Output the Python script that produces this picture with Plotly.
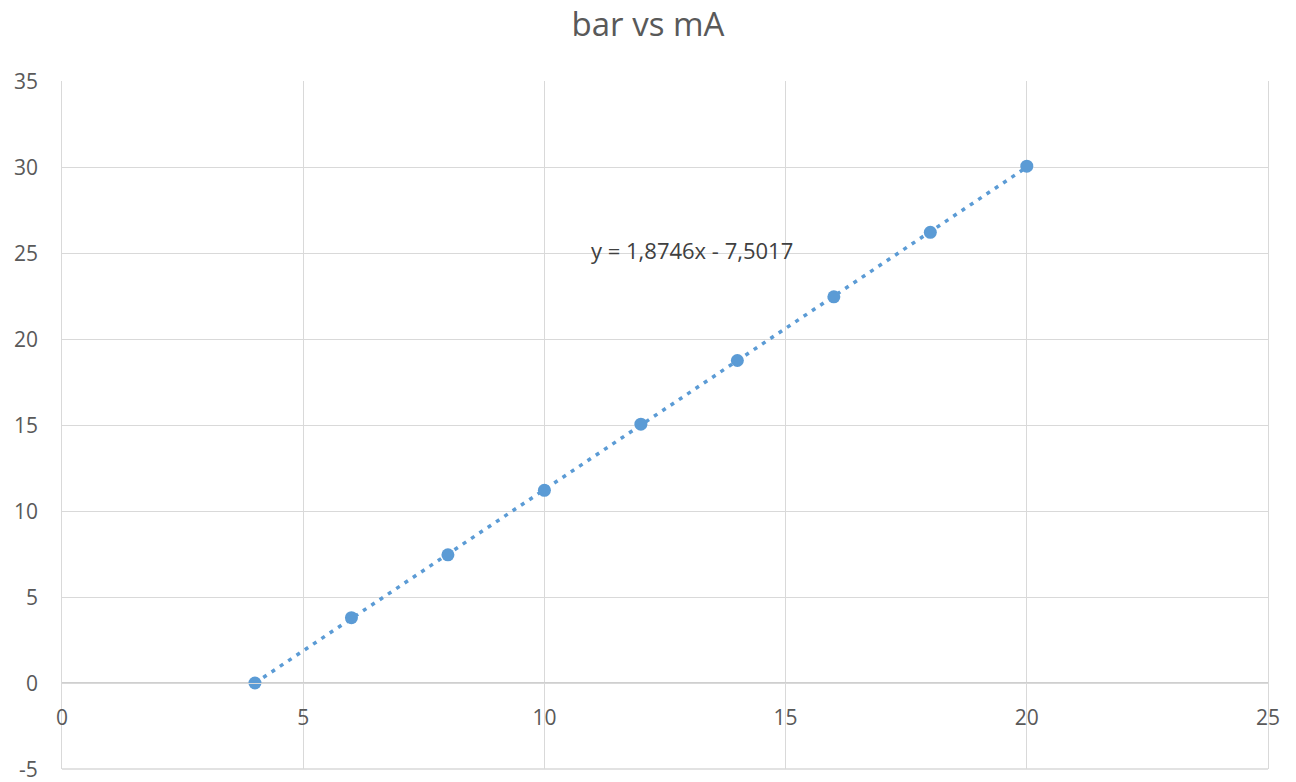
import plotly.graph_objects as go

# Calibration readings: loop current (mA) vs pressure (bar)
current_ma = [4, 6, 8, 10, 12, 14, 16, 18, 20]
pressure_bar = [0.0, 3.8, 7.45, 11.2, 15.05, 18.75, 22.45, 26.2, 30.05]

# Linear trendline as stated in the label
slope = 1.8746
intercept = -7.5017
trend_x = [4, 20]
trend_y = [slope * x + intercept for x in trend_x]

x_ticks = [0, 5, 10, 15, 20, 25]
y_ticks = [-5, 0, 5, 10, 15, 20, 25, 30, 35]

grid = "#d9d9d9"
text_col = "#595959"
blue = "#5b9bd5"
tick_font = dict(family="Open Sans", size=21, color=text_col)

fig = go.Figure()
fig.add_trace(go.Scatter(
    x=trend_x, y=trend_y, mode="lines",
    line=dict(color=blue, width=3.5, dash="4px,6px"),
    hoverinfo="skip", showlegend=False,
))
fig.add_trace(go.Scatter(
    x=current_ma, y=pressure_bar, mode="markers",
    marker=dict(color=blue, size=13),
    showlegend=False,
))

fig.add_annotation(
    x=13.05, y=25.2, xref="x", yref="y",
    text="y = 1,8746x - 7,5017", showarrow=False,
    font=dict(size=22, color="#404040"),
)

# value labels for the y axis, placed left of the plot area
for v in y_ticks:
    fig.add_annotation(
        x=0, y=v, xref="paper", yref="y", text=str(v), showarrow=False,
        xanchor="right", yanchor="middle", xshift=-22, font=tick_font,
    )

# frame along the bottom edge of the plot area
fig.add_shape(type="line", xref="paper", yref="paper", x0=0, x1=1, y0=0, y1=0,
              line=dict(color=grid, width=1.5))

fig.update_layout(
    width=1296, height=782,
    margin=dict(l=62, r=28, t=81, b=13),
    paper_bgcolor="white", plot_bgcolor="white",
    font=dict(family="Open Sans", color=text_col),
    title=dict(text="bar vs mA", x=0.5, xanchor="center", y=0.969, yanchor="middle",
               font=dict(size=33, color=text_col)),
    xaxis=dict(
        range=[0, 25], tickvals=x_ticks, ticktext=[str(v) for v in x_ticks],
        showgrid=True, gridcolor=grid, gridwidth=1,
        zeroline=False, showline=True, linecolor=grid, mirror=True,
        anchor="free", position=0.125, ticks="",
        ticklabelstandoff=16, automargin=False,
        tickfont=tick_font,
    ),
    yaxis=dict(
        range=[-5, 35], tickvals=y_ticks, showticklabels=False,
        showgrid=True, gridcolor=grid, gridwidth=1,
        zeroline=True, zerolinecolor="#cfcfcf", zerolinewidth=2,
        showline=True, linecolor=grid, mirror=True, ticks="",
        automargin=False,
    ),
)

fig.write_html("out.html")
